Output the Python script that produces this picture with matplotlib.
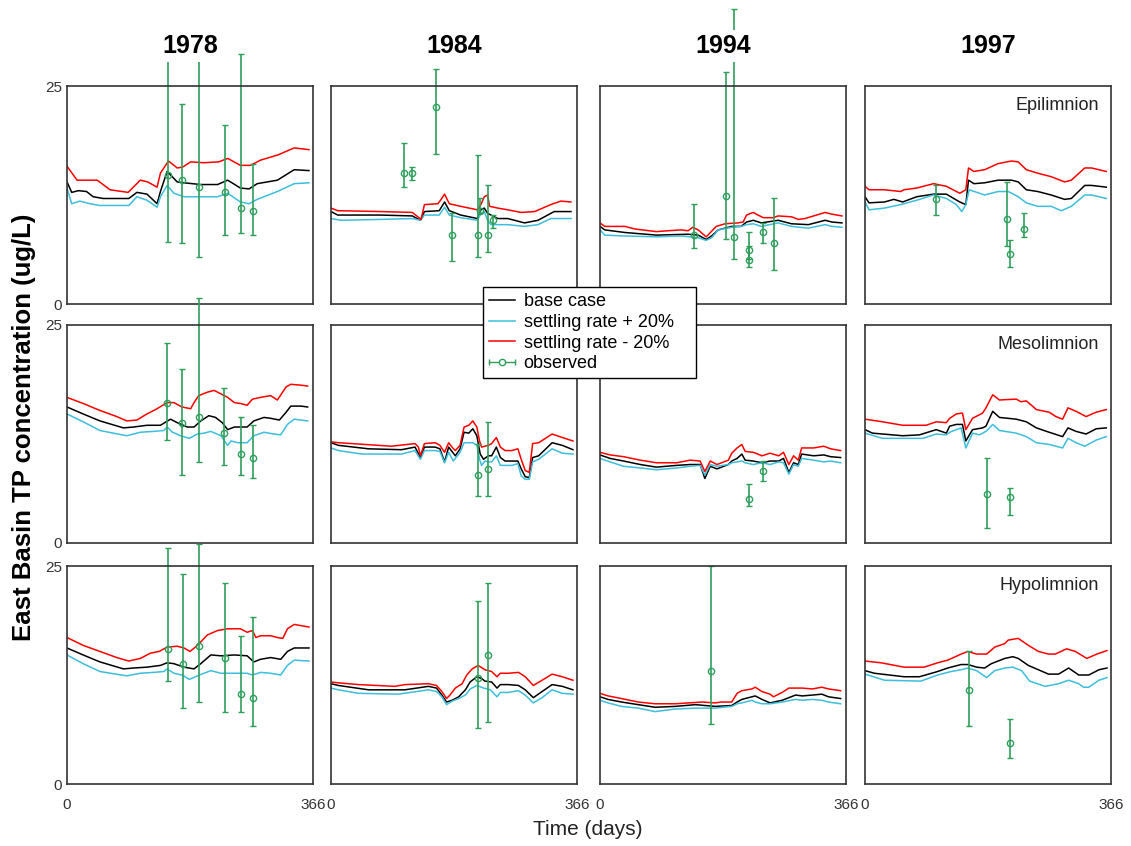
import matplotlib
matplotlib.use("Agg")
import matplotlib.pyplot as plt
import numpy as np
from matplotlib.lines import Line2D
from matplotlib.legend_handler import HandlerLine2D, HandlerTuple

plt.rcParams['font.family'] = ['Liberation Sans', 'DejaVu Sans']

# ---------------- data (TP, ug/L) ----------------
# naming: <layer><year>_<case>_t (days) / <layer><year>_<case> (values)
# base = base case, up = settling rate +20%, dn = settling rate -20%

# 1978
ep78_dn_t = [0, 15, 45, 64, 91, 109, 120, 134, 139, 151, 164, 172, 184, 203, 226, 239, 258, 273, 288, 314, 338, 360]
ep78_dn = [15.8, 14.2, 14.2, 13.1, 12.8, 14.2, 14.0, 13.4, 15.0, 16.4, 15.6, 15.7, 16.3, 16.2, 16.3, 16.7, 15.9, 15.9, 16.5, 17.1, 17.9, 17.7]
ep78_base_t = [0, 7, 17, 29, 39, 54, 92, 104, 119, 134, 139, 149, 164, 174, 199, 224, 239, 258, 271, 283, 313, 338, 360]
ep78_base = [14.0, 12.8, 13.0, 12.9, 12.3, 12.1, 12.1, 12.8, 12.6, 11.5, 12.9, 15.2, 14.0, 13.9, 13.7, 13.7, 14.2, 13.3, 13.2, 13.8, 14.2, 15.4, 15.3]
ep78_up_t = [0, 7, 19, 34, 49, 92, 104, 119, 134, 139, 149, 159, 174, 199, 224, 239, 258, 271, 283, 313, 338, 360]
ep78_up = [13.3, 11.5, 11.8, 11.5, 11.3, 11.3, 12.3, 11.9, 11.1, 12.3, 13.6, 12.7, 12.3, 12.3, 12.3, 12.7, 11.7, 11.5, 12.0, 12.9, 13.8, 13.9]
ep78_obs_t = [151, 171, 197, 235, 259, 277]
ep78_obs = [14.8, 14.2, 13.4, 12.9, 11.0, 10.7]
ep78_obs_lo = [7.1, 7.0, 5.4, 7.9, 8.1, 7.9]
ep78_obs_hi = [31.0, 22.9, 29.5, 20.5, 28.7, 16.1]

me78_dn_t = [0, 24, 49, 74, 89, 104, 119, 134, 149, 159, 171, 184, 189, 196, 209, 219, 229, 239, 249, 258, 268, 276, 288, 303, 313, 326, 333, 348, 358]
me78_dn = [16.7, 16.0, 15.2, 14.5, 14.0, 14.1, 14.8, 15.4, 16.1, 16.1, 15.6, 15.4, 16.1, 16.9, 17.3, 17.5, 17.1, 16.7, 16.1, 16.0, 15.8, 16.5, 16.7, 16.9, 16.4, 17.9, 18.2, 18.1, 18.0]
me78_base_t = [0, 24, 49, 84, 99, 119, 139, 154, 164, 179, 189, 199, 211, 221, 231, 239, 249, 258, 268, 278, 293, 303, 316, 326, 333, 348, 358]
me78_base = [15.6, 14.8, 14.0, 13.2, 13.3, 13.5, 13.5, 14.2, 13.8, 13.3, 13.3, 14.0, 14.6, 14.4, 13.8, 13.0, 13.3, 13.3, 13.3, 14.0, 14.4, 14.3, 14.1, 15.0, 15.7, 15.7, 15.6]
me78_up_t = [0, 24, 49, 89, 109, 129, 144, 149, 157, 169, 182, 194, 204, 214, 229, 239, 244, 254, 268, 278, 293, 308, 318, 328, 338, 358]
me78_up = [14.8, 13.9, 12.9, 12.3, 12.7, 12.8, 12.9, 13.3, 12.7, 12.3, 12.0, 12.5, 12.6, 12.8, 12.3, 11.2, 11.7, 11.5, 11.5, 12.3, 12.7, 12.5, 12.4, 13.6, 14.2, 14.0]
me78_obs_t = [149, 171, 196, 234, 259, 276]
me78_obs = [16.0, 13.8, 14.4, 12.6, 10.2, 9.7]
me78_obs_lo = [11.8, 7.8, 9.3, 8.9, 7.8, 7.5]
me78_obs_hi = [22.9, 20.0, 28.1, 17.8, 14.5, 13.5]

hy78_dn_t = [0, 24, 49, 74, 92, 109, 124, 137, 149, 164, 174, 183, 191, 199, 209, 224, 239, 258, 268, 276, 281, 288, 303, 313, 321, 328, 338, 360]
hy78_dn = [16.8, 15.9, 15.2, 14.5, 14.1, 14.4, 15.0, 15.2, 15.7, 15.8, 15.6, 15.2, 15.7, 16.3, 17.1, 17.6, 17.8, 17.8, 17.4, 17.6, 16.8, 17.0, 17.0, 16.8, 16.7, 17.8, 18.3, 18.0]
hy78_base_t = [0, 24, 49, 84, 99, 119, 139, 149, 159, 174, 189, 199, 214, 229, 249, 268, 278, 288, 303, 318, 328, 338, 360]
hy78_base = [15.6, 14.8, 14.0, 13.2, 13.3, 13.4, 13.6, 13.9, 13.8, 13.4, 13.2, 13.8, 14.8, 14.7, 14.8, 14.7, 14.0, 14.3, 14.5, 14.3, 15.2, 15.6, 15.6]
hy78_up_t = [0, 24, 49, 89, 109, 129, 144, 149, 159, 171, 182, 194, 214, 229, 249, 268, 276, 288, 303, 318, 328, 338, 360]
hy78_up = [14.8, 13.8, 12.9, 12.4, 12.7, 12.8, 12.9, 13.2, 12.7, 12.5, 12.0, 12.4, 13.0, 12.7, 12.7, 12.7, 12.5, 12.8, 12.7, 12.5, 13.6, 14.2, 14.1]
hy78_obs_t = [151, 172, 197, 235, 259, 277]
hy78_obs = [15.5, 13.8, 15.8, 14.4, 10.3, 9.9]
hy78_obs_lo = [11.8, 8.7, 9.4, 8.3, 8.2, 6.6]
hy78_obs_hi = [27.1, 24.1, 27.5, 23.0, 17.0, 19.2]

# 1984
ep84_dn_t = [0, 10, 74, 121, 134, 139, 159, 163, 169, 176, 193, 218, 223, 228, 233, 236, 248, 263, 283, 303, 327, 342, 357]
ep84_dn = [11.0, 10.7, 10.6, 10.5, 9.7, 11.4, 11.5, 11.9, 12.6, 11.5, 11.2, 10.8, 11.4, 12.3, 12.5, 11.2, 11.0, 10.8, 10.5, 10.6, 11.4, 11.8, 11.7]
ep84_base_t = [0, 10, 74, 121, 133, 139, 161, 169, 176, 193, 218, 223, 228, 233, 248, 263, 288, 308, 332, 357]
ep84_base = [10.6, 10.2, 10.2, 10.1, 9.6, 10.6, 10.7, 11.7, 10.7, 10.2, 9.8, 10.8, 11.0, 10.4, 9.8, 9.8, 9.3, 9.6, 10.6, 10.6]
ep84_up_t = [0, 15, 74, 121, 133, 139, 161, 169, 176, 193, 218, 223, 228, 233, 238, 263, 288, 308, 327, 357]
ep84_up = [9.8, 9.6, 9.7, 9.8, 9.6, 10.2, 10.2, 11.1, 10.2, 9.9, 9.6, 10.4, 10.6, 9.6, 9.1, 9.1, 8.9, 9.1, 9.8, 9.8]
ep84_obs_t = [108, 121, 156, 180, 219, 222, 234, 241]
ep84_obs = [15.0, 15.0, 22.6, 7.9, 7.9, 10.7, 7.9, 9.6]
ep84_obs_lo = [13.4, 14.2, 17.2, 4.9, 5.4, 10.4, 6.0, 8.7]
ep84_obs_hi = [18.5, 15.7, 27.0, 10.4, 17.1, 12.2, 13.7, 10.2]

me84_dn_t = [0, 11, 31, 90, 125, 130, 133, 139, 155, 162, 169, 175, 180, 185, 192, 198, 205, 211, 217, 221, 224, 234, 239, 246, 252, 259, 269, 278, 283, 289, 295, 300, 309, 329, 344, 360]
me84_dn = [11.6, 11.5, 11.4, 11.1, 11.4, 11.0, 10.0, 11.4, 11.5, 11.2, 10.4, 11.5, 11.0, 10.6, 11.2, 13.3, 13.5, 14.0, 13.3, 11.7, 11.0, 11.2, 11.4, 12.1, 11.0, 10.6, 10.6, 10.8, 9.6, 8.3, 8.1, 11.4, 11.5, 12.5, 12.1, 11.7]
me84_base_t = [0, 11, 56, 105, 125, 133, 139, 155, 162, 169, 175, 180, 185, 192, 198, 205, 211, 217, 222, 227, 234, 239, 246, 252, 259, 269, 278, 283, 289, 295, 300, 309, 329, 344, 360]
me84_base = [11.5, 11.2, 10.8, 10.7, 11.0, 9.8, 11.0, 11.0, 10.8, 9.3, 11.0, 10.5, 10.0, 10.8, 12.7, 12.6, 13.1, 12.3, 10.2, 9.6, 10.0, 10.0, 11.0, 9.8, 9.4, 9.4, 9.4, 8.5, 7.6, 7.5, 9.8, 10.0, 11.5, 11.2, 10.7]
me84_up_t = [0, 11, 46, 105, 125, 133, 139, 155, 162, 169, 175, 182, 192, 198, 205, 211, 217, 221, 224, 229, 234, 239, 246, 252, 269, 278, 283, 289, 295, 300, 309, 329, 344, 360]
me84_up = [10.9, 10.6, 10.2, 10.2, 10.6, 9.6, 10.6, 10.6, 10.5, 9.2, 10.4, 9.4, 10.4, 11.5, 11.5, 11.5, 11.2, 9.6, 8.9, 9.4, 9.3, 9.3, 10.0, 8.9, 8.9, 9.1, 7.7, 7.3, 7.3, 9.3, 9.6, 10.8, 10.3, 10.2]
me84_obs_t = [219, 234]
me84_obs = [7.8, 8.5]
me84_obs_lo = [5.4, 5.4]
me84_obs_hi = [11.4, 13.9]

hy84_dn_t = [0, 11, 41, 95, 110, 145, 157, 165, 172, 177, 185, 195, 202, 210, 219, 229, 239, 247, 252, 264, 279, 289, 301, 314, 329, 344, 360]
hy84_dn = [11.7, 11.6, 11.4, 11.2, 11.4, 11.5, 11.3, 10.6, 9.8, 10.2, 11.0, 11.5, 12.5, 13.2, 13.6, 13.1, 12.9, 12.3, 12.7, 12.7, 12.8, 12.3, 11.3, 11.9, 12.6, 12.3, 11.9]
hy84_base_t = [0, 11, 56, 110, 145, 157, 165, 172, 180, 190, 200, 207, 217, 224, 229, 239, 247, 252, 264, 279, 289, 301, 314, 329, 344, 360]
hy84_base = [11.5, 11.3, 10.8, 10.8, 11.2, 11.0, 10.2, 9.4, 9.6, 10.0, 10.8, 11.7, 12.3, 12.1, 11.8, 11.7, 11.0, 11.4, 11.4, 11.3, 10.8, 9.9, 10.6, 11.4, 11.2, 10.8]
hy84_up_t = [0, 11, 41, 100, 145, 157, 165, 172, 180, 190, 200, 207, 217, 227, 237, 247, 252, 264, 279, 289, 301, 314, 329, 344, 360]
hy84_up = [11.0, 10.8, 10.4, 10.3, 10.8, 10.6, 10.0, 9.1, 9.5, 9.8, 10.2, 10.9, 11.3, 11.0, 10.8, 10.0, 10.5, 10.5, 10.7, 10.2, 9.3, 9.9, 10.8, 10.4, 10.3]
hy84_obs_t = [219, 234]
hy84_obs = [12.2, 14.8]
hy84_obs_lo = [6.4, 7.1]
hy84_obs_hi = [21.0, 23.0]

# 1994
ep94_dn_t = [0, 7, 37, 52, 84, 101, 121, 131, 138, 146, 158, 163, 173, 186, 205, 213, 218, 228, 235, 243, 258, 265, 285, 295, 305, 335, 345, 360]
ep94_dn = [9.3, 8.9, 8.9, 8.6, 8.3, 8.4, 8.5, 8.4, 8.8, 8.5, 7.7, 8.1, 8.9, 9.2, 9.3, 9.4, 10.2, 10.5, 10.2, 9.9, 9.9, 10.1, 10.0, 9.7, 9.8, 10.5, 10.3, 10.1]
ep94_base_t = [0, 7, 37, 84, 131, 146, 158, 166, 176, 196, 210, 218, 228, 240, 265, 285, 310, 335, 345, 360]
ep94_base = [8.9, 8.5, 8.2, 7.9, 8.0, 7.9, 7.4, 7.8, 8.5, 8.9, 8.9, 9.4, 9.6, 9.3, 9.6, 9.2, 9.1, 9.6, 9.4, 9.3]
ep94_up_t = [0, 7, 37, 84, 121, 146, 158, 166, 176, 196, 210, 218, 228, 240, 265, 285, 310, 335, 345, 360]
ep94_up = [8.5, 7.9, 7.8, 7.7, 7.8, 7.6, 7.3, 7.6, 8.5, 8.8, 8.9, 9.1, 9.2, 8.9, 9.3, 8.9, 8.7, 9.1, 8.9, 8.8]
ep94_obs_t = [140, 188, 200, 221, 221, 242, 259]
ep94_obs = [7.9, 12.4, 7.7, 6.2, 5.0, 8.2, 7.0]
ep94_obs_lo = [6.4, 7.4, 5.2, 5.2, 4.3, 7.0, 3.9]
ep94_obs_hi = [11.5, 26.6, 33.8, 8.3, 6.6, 9.3, 12.1]

me94_dn_t = [0, 15, 35, 60, 84, 114, 134, 149, 156, 164, 174, 191, 196, 204, 211, 216, 228, 241, 253, 266, 273, 281, 288, 295, 300, 318, 333, 343, 358]
me94_dn = [10.4, 10.1, 9.9, 9.5, 9.2, 9.2, 9.5, 9.4, 8.2, 9.4, 9.0, 9.5, 10.3, 10.9, 11.3, 10.5, 10.4, 10.0, 10.3, 10.0, 10.4, 9.0, 10.0, 9.5, 10.9, 10.9, 11.1, 10.8, 10.6]
me94_base_t = me94_dn_t
me94_base = [10.1, 9.7, 9.4, 9.0, 8.7, 8.9, 9.0, 9.0, 7.4, 8.8, 8.5, 9.0, 9.4, 9.7, 10.2, 9.5, 9.4, 9.2, 9.4, 9.4, 9.7, 8.1, 9.2, 9.0, 10.2, 10.0, 10.1, 9.9, 9.8]
me94_up_t = me94_dn_t
me94_up = [9.7, 9.3, 8.8, 8.6, 8.4, 8.6, 8.8, 8.9, 7.8, 9.0, 8.8, 9.0, 9.2, 9.3, 9.4, 9.2, 9.0, 9.2, 9.0, 9.3, 9.2, 7.9, 9.0, 8.8, 9.7, 9.5, 9.3, 9.4, 9.2]
me94_obs_t = [222, 242]
me94_obs = [5.1, 8.3]
me94_obs_lo = [4.3, 7.1]
me94_obs_hi = [6.8, 9.4]

hy94_dn_t = [0, 12, 32, 57, 82, 112, 132, 152, 171, 181, 196, 204, 211, 226, 231, 241, 253, 258, 271, 281, 301, 316, 330, 340, 358]
hy94_dn = [10.4, 10.1, 9.8, 9.4, 9.2, 9.2, 9.3, 9.4, 9.3, 9.4, 9.4, 10.4, 10.7, 10.9, 11.1, 10.6, 10.3, 10.0, 10.5, 11.0, 11.0, 10.9, 11.1, 10.9, 10.7]
hy94_base_t = [0, 12, 32, 57, 82, 112, 142, 171, 196, 204, 211, 226, 231, 241, 253, 271, 291, 301, 316, 330, 340, 358]
hy94_base = [10.0, 9.7, 9.4, 9.1, 8.8, 8.9, 9.1, 8.9, 9.0, 9.4, 9.7, 10.0, 10.1, 9.7, 9.3, 9.6, 10.2, 10.1, 10.2, 10.3, 10.0, 9.8]
hy94_up_t = hy94_base_t
hy94_up = [9.6, 9.3, 8.9, 8.7, 8.3, 8.6, 8.7, 8.7, 8.9, 9.2, 9.3, 9.6, 9.4, 9.2, 9.2, 9.4, 9.7, 9.6, 9.7, 9.6, 9.4, 9.2]
hy94_obs_t = [165]
hy94_obs = [13.0]
hy94_obs_lo = [6.9]
hy94_obs_hi = [25.0]

# 1997
ep97_dn_t = [0, 6, 29, 53, 58, 77, 102, 121, 141, 150, 154, 162, 178, 198, 218, 228, 240, 257, 277, 297, 307, 327, 337, 359]
ep97_dn = [13.5, 13.1, 13.1, 12.9, 13.1, 13.3, 13.8, 13.5, 12.7, 13.1, 15.6, 15.2, 15.4, 16.1, 16.4, 16.3, 15.4, 15.0, 14.6, 14.0, 14.2, 15.6, 15.6, 15.2]
ep97_base_t = [0, 6, 29, 43, 56, 77, 102, 121, 141, 150, 154, 162, 178, 198, 218, 228, 240, 257, 277, 297, 307, 327, 337, 359]
ep97_base = [12.3, 11.6, 11.7, 12.0, 11.7, 12.3, 12.6, 12.6, 11.7, 11.4, 14.2, 13.8, 13.9, 14.2, 14.2, 14.0, 13.1, 12.9, 12.5, 12.0, 12.1, 13.6, 13.6, 13.4]
ep97_up_t = [0, 6, 29, 53, 77, 102, 121, 136, 144, 150, 155, 178, 198, 213, 228, 240, 257, 277, 292, 307, 327, 337, 359]
ep97_up = [11.7, 10.8, 11.0, 11.4, 11.9, 12.5, 12.1, 11.4, 10.6, 11.4, 13.1, 12.5, 12.9, 12.9, 12.3, 11.6, 11.2, 11.2, 10.7, 11.2, 12.5, 12.5, 12.1]
ep97_obs_t = [106, 211, 216, 236]
ep97_obs = [12.0, 9.8, 5.7, 8.6]
ep97_obs_lo = [10.2, 6.7, 4.3, 7.7]
ep97_obs_hi = [13.7, 14.0, 7.3, 10.4]

me97_dn_t = [0, 26, 56, 91, 106, 121, 126, 136, 145, 150, 160, 175, 180, 190, 200, 225, 232, 240, 255, 274, 284, 294, 302, 314, 329, 344, 359]
me97_dn = [14.2, 13.9, 13.5, 13.5, 13.9, 13.8, 14.3, 14.8, 14.9, 13.0, 14.3, 14.9, 15.5, 17.0, 16.4, 16.5, 16.2, 16.3, 15.3, 15.0, 14.5, 14.2, 15.5, 15.1, 14.5, 15.0, 15.3]
me97_base_t = [0, 11, 56, 81, 106, 121, 126, 136, 145, 150, 160, 175, 180, 190, 200, 225, 240, 255, 274, 294, 302, 314, 329, 344, 359]
me97_base = [13.0, 12.6, 12.3, 12.4, 13.0, 12.6, 13.4, 13.6, 13.6, 11.7, 13.0, 13.2, 13.4, 15.1, 14.4, 14.2, 13.9, 13.2, 12.7, 12.2, 13.2, 12.8, 12.5, 13.1, 13.2]
me97_up_t = [0, 26, 86, 106, 121, 126, 136, 143, 150, 160, 170, 180, 190, 200, 225, 240, 255, 274, 294, 302, 314, 327, 344, 359]
me97_up = [12.6, 12.0, 12.0, 12.5, 12.4, 12.7, 13.0, 13.2, 10.9, 12.6, 12.4, 12.8, 13.6, 12.9, 12.6, 12.2, 11.5, 11.3, 10.9, 12.0, 11.5, 11.1, 11.8, 12.2]
me97_obs_t = [182, 215]
me97_obs = [5.6, 5.3]
me97_obs_lo = [1.7, 3.2]
me97_obs_hi = [9.8, 6.3]

hy97_dn_t = [0, 24, 58, 88, 108, 123, 143, 153, 166, 181, 193, 208, 213, 228, 243, 258, 273, 283, 300, 313, 330, 345, 360]
hy97_dn = [14.1, 13.9, 13.4, 13.4, 13.9, 14.2, 14.9, 15.2, 14.9, 14.9, 15.7, 16.1, 16.5, 16.7, 15.9, 15.2, 14.9, 14.9, 15.5, 15.2, 14.4, 14.9, 15.3]
hy97_base_t = [0, 14, 58, 81, 108, 123, 143, 153, 166, 178, 188, 208, 220, 228, 243, 258, 273, 288, 303, 318, 333, 348, 360]
hy97_base = [13.0, 12.7, 12.3, 12.3, 12.9, 13.3, 13.7, 13.7, 13.4, 13.3, 13.8, 14.4, 14.6, 14.4, 13.6, 13.1, 12.6, 12.6, 13.3, 12.5, 12.5, 13.1, 13.3]
hy97_up_t = [0, 29, 83, 108, 128, 143, 153, 166, 181, 193, 208, 220, 233, 245, 268, 288, 303, 318, 325, 333, 348, 360]
hy97_up = [12.6, 11.9, 11.8, 12.5, 12.9, 13.1, 13.3, 13.0, 12.2, 13.0, 13.3, 13.4, 13.0, 11.8, 11.2, 11.5, 11.9, 11.5, 11.1, 11.1, 11.9, 12.2]
hy97_obs_t = [155, 215]
hy97_obs = [10.8, 4.7]
hy97_obs_lo = [6.7, 3.0]
hy97_obs_hi = [15.3, 7.5]

years = ["1978", "1984", "1994", "1997"]
layers = ["ep", "me", "hy"]
layer_names = ["Epilimnion", "Mesolimnion", "Hypolimnion"]
legend_labels = ["base case", "settling rate + 20%", "settling rate - 20%", "observed"]

# ---------------- layout ----------------
W, H = 1131, 846
fig = plt.figure(figsize=(W / 100, H / 100), dpi=100)
fig.patch.set_facecolor("white")

col_left = [67, 331, 600, 865]
row_top = [86, 325, 566]
pw, ph = 246, 218

C_BASE = "#000000"
C_UP = "#3CBEDC"
C_DN = "#FF0000"
C_OBS = "#2E9E5B"
TXT = "#333333"

g = globals()
for i, lay in enumerate(layers):
    for j, yr in enumerate(years):
        key = lay + yr[2:]
        ax = fig.add_axes([col_left[j] / W, 1 - (row_top[i] + ph) / H, pw / W, ph / H])
        ax.plot(g[key + "_base_t"], g[key + "_base"], color=C_BASE, lw=1.1)
        ax.plot(g[key + "_up_t"], g[key + "_up"], color=C_UP, lw=1.1)
        ax.plot(g[key + "_dn_t"], g[key + "_dn"], color=C_DN, lw=1.1)

        ov = np.array(g[key + "_obs"])
        lo = np.array(g[key + "_obs_lo"])
        hi = np.array(g[key + "_obs_hi"])
        eb = ax.errorbar(g[key + "_obs_t"], ov, yerr=[ov - lo, hi - ov], fmt="o",
                         mfc="none", mec=C_OBS, ms=4.5, mew=1.0, ecolor=C_OBS,
                         elinewidth=1.2, capsize=2.5, capthick=1.0)
        for art in eb.get_children():
            art.set_clip_on(False)

        ax.set_xlim(0, 366)
        ax.set_ylim(0, 25)
        ax.set_xticks([0, 366])
        ax.set_yticks([0, 25])
        ax.tick_params(length=0, labelsize=11, colors=TXT)
        ax.tick_params(axis="x", pad=10)
        ax.tick_params(axis="y", pad=3.5)
        if j > 0:
            ax.tick_params(labelleft=False)
        if i < 2:
            ax.tick_params(labelbottom=False)
        for sp in ax.spines.values():
            sp.set_color("#333333")
            sp.set_linewidth(1.2)

        if j == 3:
            ax.text(0.951, 0.91, layer_names[i], transform=ax.transAxes,
                    ha="right", va="center", fontsize=13, color="#222222")

for j, yr in enumerate(years):
    fig.text((col_left[j] + pw / 2) / W, 1 - 46 / H, yr, ha="center", va="center",
             fontsize=18, fontweight="bold", zorder=10,
             bbox=dict(facecolor="white", edgecolor="none", pad=3))

fig.text(24 / W, 1 - 427 / H, "East Basin TP concentration (ug/L)", rotation=90,
         ha="center", va="center", fontsize=18.5, fontweight="bold")
fig.text(588 / W, 1 - 829 / H, "Time (days)", ha="center", va="center",
         fontsize=15, color="#222222")

# legend
h_base = Line2D([], [], color=C_BASE, lw=1.1)
h_up = Line2D([], [], color=C_UP, lw=1.1)
h_dn = Line2D([], [], color=C_DN, lw=1.1)
h_caps = Line2D([], [], color=C_OBS, lw=1.0, marker="|", ms=5, mew=1.0)
h_dot = Line2D([], [], color=C_OBS, lw=0, marker="o", mfc="white", mec=C_OBS, ms=4.5)
leg = fig.legend([h_base, h_up, h_dn, (h_caps, h_dot)], legend_labels,
                 loc="upper left", mode="expand",
                 bbox_to_anchor=(483 / W, 1 - 378 / H, 213 / W, 91 / H),
                 bbox_transform=fig.transFigure, fontsize=13, frameon=True,
                 fancybox=False, edgecolor="black", framealpha=1,
                 handlelength=1.4, handletextpad=0.5, labelspacing=0.2,
                 borderpad=0.35, borderaxespad=0,
                 handler_map={tuple: HandlerTuple(ndivide=1),
                              h_caps: HandlerLine2D(numpoints=2, marker_pad=0)})
leg.get_frame().set_linewidth(1.0)
leg.set_zorder(20)

fig.savefig("out.png", dpi=100)
